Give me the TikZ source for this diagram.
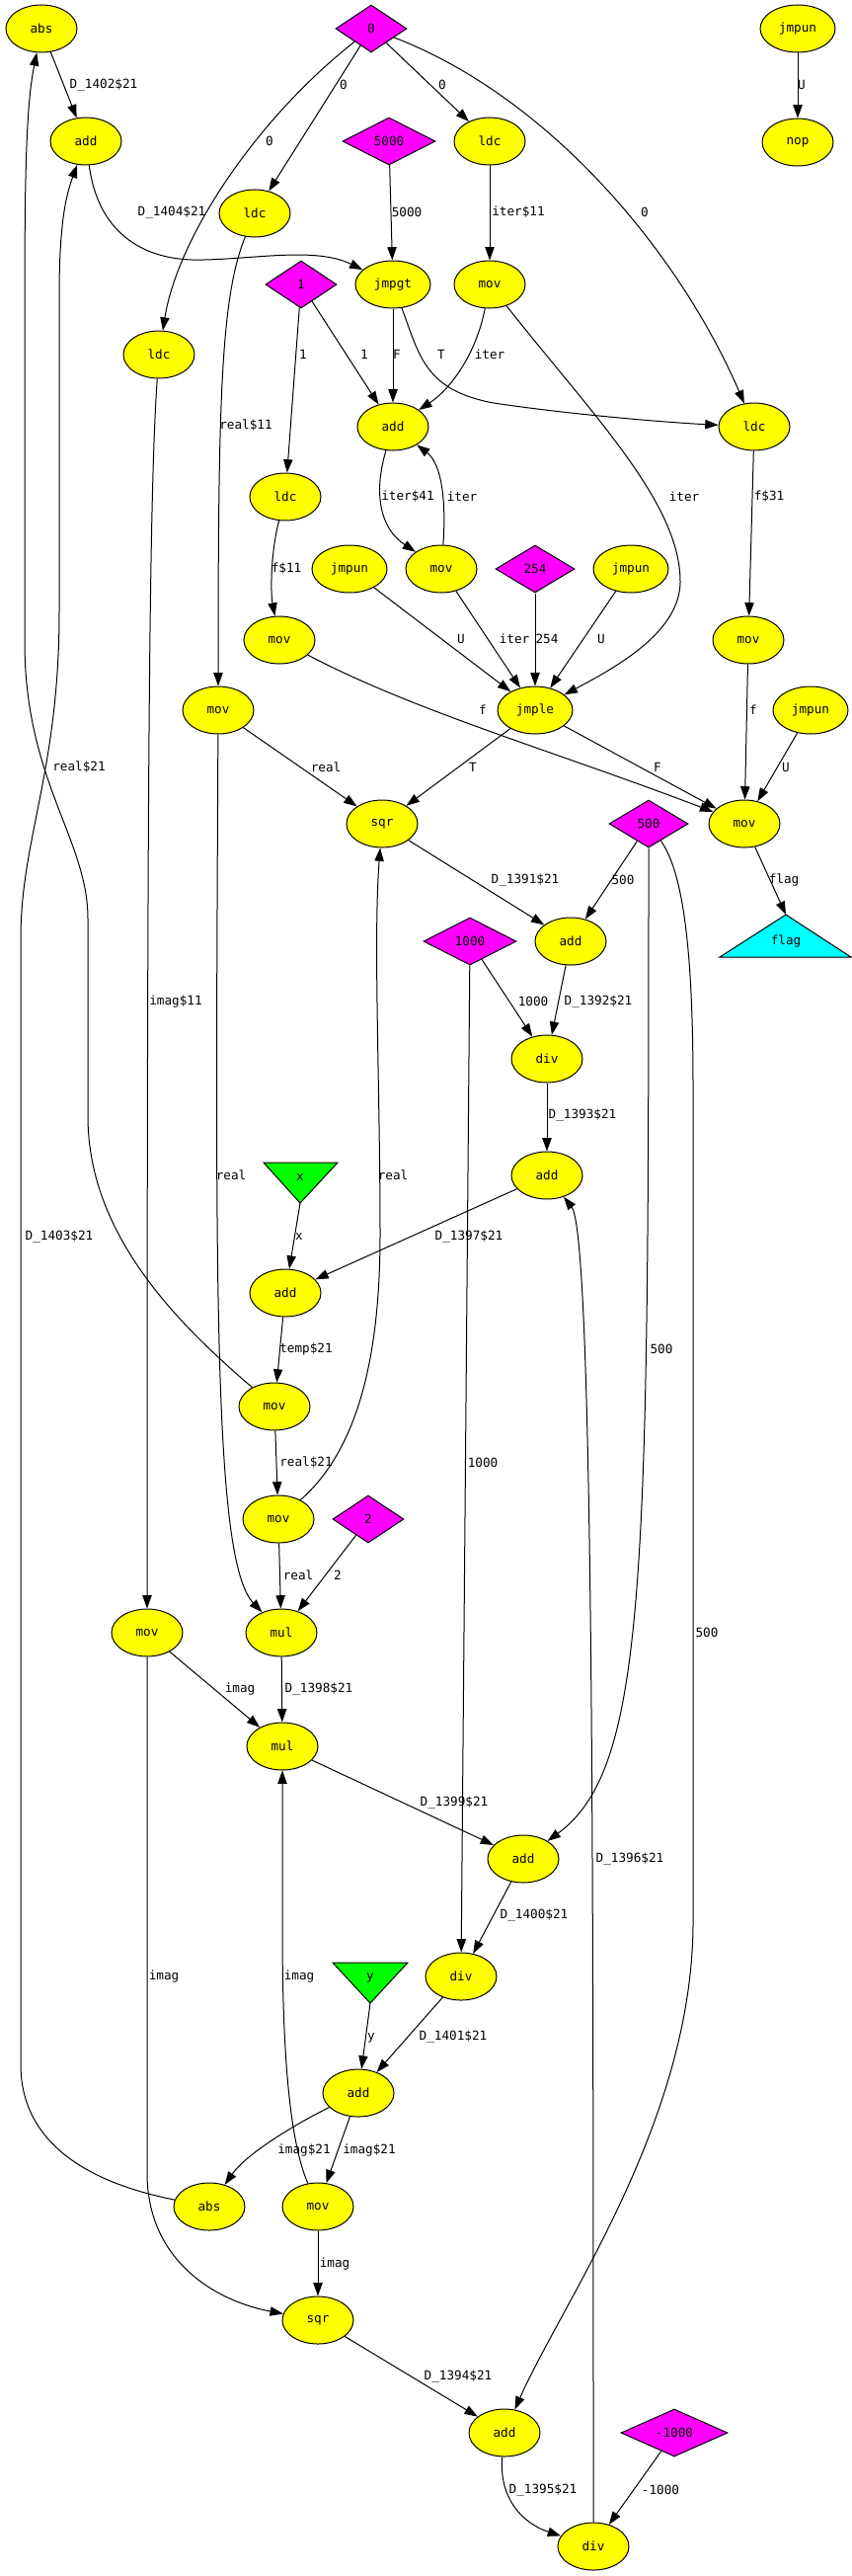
\documentclass[tikz,border=0pt]{standalone}
\usepackage{fontspec}
\setmainfont{DejaVu Sans Mono}
\usetikzlibrary{shapes.geometric,arrows.meta}
\definecolor{opyellow}{RGB}{255,255,0}
\definecolor{cstmagenta}{RGB}{255,0,255}
\definecolor{outcyan}{RGB}{0,255,255}
\definecolor{ingreen}{RGB}{0,255,0}

\begin{document}
\begin{tikzpicture}[x=0.75pt,y=-0.75pt,line width=0.75pt,
  every node/.style={font=\fontsize{9.5}{11}\selectfont},
  op/.style={ellipse,draw,fill=opyellow,minimum width=54pt,minimum height=36pt,inner sep=0pt},
  wideop/.style={op,minimum width=57pt},
  cst/.style={diamond,draw,fill=cstmagenta,aspect=2,minimum height=36pt,inner sep=0pt},
  edge/.style={-{Triangle[length=10pt,width=7pt]}}]
  \path[fill=white,use as bounding box] (0,0) rectangle (863,2608);

  % operations and constants
  \node[op] (abs1) at (42,29) {abs};
  \node[cst,minimum width=54pt] (c0) at (376,29) {0};
  \node[wideop] (jmpun1) at (808,29) {jmpun};
  \node[op] (add1) at (87,143) {add};
  \node[cst,minimum width=70.5pt] (c5000) at (394,143) {5000};
  \node[op] (ldc1) at (496,143) {ldc};
  \node[op] (nop) at (808,144) {nop};
  \node[op] (ldc2) at (258,216) {ldc};
  \node[cst,minimum width=54pt] (c1) at (305,288) {1};
  \node[wideop] (jmpgt) at (398,288) {jmpgt};
  \node[op] (mov1) at (496,288) {mov};
  \node[op] (ldc3) at (161,359) {ldc};
  \node[op] (add2) at (398,432) {add};
  \node[op] (ldc4) at (764,432) {ldc};
  \node[op] (ldc5) at (289,503) {ldc};
  \node[wideop] (jmpun2) at (354,576) {jmpun};
  \node[op] (mov2) at (447,576) {mov};
  \node[cst,minimum width=60pt] (c254) at (542,576) {254};
  \node[wideop] (jmpun3) at (639,576) {jmpun};
  \node[op] (mov3) at (283,648) {mov};
  \node[op] (mov4) at (758,648) {mov};
  \node[op] (mov5) at (221,719) {mov};
  \node[wideop] (jmple) at (542,719) {jmple};
  \node[wideop] (jmpun4) at (821,719) {jmpun};
  \node[op] (sqr1) at (387,834) {sqr};
  \node[cst,minimum width=60pt] (c500) at (657,834) {500};
  \node[op] (mov6) at (754,834) {mov};
  \node[cst,minimum width=70.5pt] (c1000) at (476,953) {1000};
  \node[op] (add3) at (578,953) {add};
  \node[op] (div1) at (554,1072) {div};
  \node[op] (add4) at (554,1190) {add};
  \node[op] (add5) at (289,1309) {add};
  \node[op] (mov7) at (278,1424) {mov};
  \node[op] (mov8) at (282,1538) {mov};
  \node[cst,minimum width=54pt] (c2) at (373,1538) {2};
  \node[op] (mov9) at (149,1653) {mov};
  \node[op] (mul1) at (285,1653) {mul};
  \node[op] (mul2) at (286,1768) {mul};
  \node[op] (add6) at (530,1882) {add};
  \node[op] (div2) at (467,2001) {div};
  \node[op] (add7) at (363,2119) {add};
  \node[op] (abs2) at (212,2234) {abs};
  \node[op] (mov10) at (322,2234) {mov};
  \node[op] (sqr2) at (322,2349) {sqr};
  \node[op] (add8) at (511,2463) {add};
  \node[cst,minimum width=81pt] (cm1000) at (683,2463) {-1000};
  \node[op] (div3) at (601,2578) {div};

  % inputs and output
  \coordinate (flagtip) at (796,926);
  \filldraw[fill=outcyan] (729,969) -- (flagtip) -- (862,969) -- cycle;
  \node (flag) at (796,953) {flag};
  \coordinate (xtip) at (304,1218);
  \filldraw[fill=ingreen] (267,1177) -- (342,1177) -- (xtip) -- cycle;
  \node (xin) at (304,1192) {x};
  \coordinate (ytip) at (375,2028);
  \filldraw[fill=ingreen] (337,1987) -- (413,1987) -- (ytip) -- cycle;
  \node (yin) at (375,2002) {y};

  % data flow
  \draw[edge] (c0) -- (ldc1) node (e1) at (448,86) {0};
  \draw[edge] (c0) -- (ldc2) node (e2) at (348,86) {0};
  \draw[edge] (c0) .. controls (260,120) and (180,240) .. (ldc3) node (e3) at (273,143) {0};
  \draw[edge] (c0) .. controls (560,100) and (690,260) .. (ldc4) node (e4) at (653,215) {0};
  \draw[edge] (jmpun1) -- (nop) node (e5) at (812,86) {U};
  \draw[edge] (abs1) -- (add1) node (e6) at (105,86) {D\_1402\$21};
  \draw[edge] (add1) .. controls (100,240) and (150,265) .. (206,263) .. controls (260,262) and (320,250) .. (jmpgt) node (e7) at (174,215) {D\_1404\$21};
  \draw[edge] (c5000) -- (jmpgt) node (e8) at (412,215) {5000};
  \draw[edge] (ldc1) -- (mov1) node (e9) at (525,215) {iter\$11};
  \draw[edge] (ldc2) .. controls (224,300) and (221,400) .. (mov5) node (e10) at (249,431) {real\$11};
  \draw[edge] (c1) -- (ldc5) node (e11) at (307,359) {1};
  \draw[edge] (c1) -- (add2) node (e12) at (369,359) {1};
  \draw[edge] (jmpgt) -- (add2) node (e13) at (402,359) {F};
  \draw[edge] (jmpgt) .. controls (425,360) and (430,395) .. (500,408) .. controls (580,420) and (680,428) .. (ldc4) node (e14) at (447,359) {T};
  \draw[edge] (mov1) .. controls (482,360) and (455,395) .. (add2) node (e15) at (496,359) {iter};
  \draw[edge] (mov1) .. controls (600,420) and (690,510) .. (689,590) .. controls (688,640) and (625,675) .. (jmple) node (e16) at (693,503) {iter};
  \draw[edge] (ldc3) .. controls (151,500) and (149,800) .. (mov9) node (e17) at (178,1014) {imag\$11};
  \draw[edge] (add2) .. controls (378,500) and (385,535) .. (mov2) node (e18) at (413,503) {iter\$41};
  \draw[edge] (mov2) .. controls (452,510) and (448,470) .. (add2) node (e19) at (468,503) {iter};
  \draw[edge] (ldc5) .. controls (274,560) and (274,600) .. (mov3) node (e20) at (290,576) {f\$11};
  \draw[edge] (ldc4) -- (mov4) node (e21) at (779,503) {f\$31};
  \draw[edge] (jmpun2) -- (jmple) node (e22) at (467,647) {U};
  \draw[edge] (mov2) -- (jmple) node (e23) at (521,647) {iter};
  \draw[edge] (c254) -- (jmple) node (e24) at (554,647) {254};
  \draw[edge] (jmpun3) -- (jmple) node (e25) at (609,647) {U};
  \draw[edge] (mov3) .. controls (420,720) and (560,760) .. (mov6) node (e26) at (489,719) {f};
  \draw[edge] (mov4) -- (mov6) node (e27) at (763,719) {f};
  \draw[edge] (jmpun4) -- (mov6) node (e28) at (796,777) {U};
  \draw[edge] (mov5) -- (sqr1) node (e29) at (330,777) {real};
  \draw[edge] (jmple) -- (sqr1) node (e30) at (479,777) {T};
  \draw[edge] (jmple) -- (mov6) node (e31) at (666,777) {F};
  \draw[edge] (mov6) -- (flagtip) node (e32) at (794,891) {flag};
  \draw[edge] (sqr1) -- (add3) node (e33) at (532,891) {D\_1391\$21};
  \draw[edge] (c500) -- (add3) node (e34) at (631,891) {500};
  \draw[edge] (c500) .. controls (657,1600) and (655,1790) .. (add6) node (e35) at (670,1366) {500};
  \draw[edge] (c500) .. controls (690,880) and (702,950) .. (702,1100) -- (702,1950) .. controls (700,2150) and (570,2330) .. (add8) node (e36) at (716,1653) {500};
  \draw[edge] (c1000) -- (div1) node (e37) at (540,1014) {1000};
  \draw[edge] (add3) -- (div1) node (e38) at (606,1014) {D\_1392\$21};
  \draw[edge] (c1000) -- (div2) node (e39) at (489,1481) {1000};
  \draw[edge] (div1) -- (add4) node (e40) at (590,1129) {D\_1393\$21};
  \draw[edge] (add4) -- (add5) node (e41) at (475,1252) {D\_1397\$21};
  \draw[edge] (xtip) -- (add5) node (e42) at (303,1252) {x};
  \draw[edge] (div3) .. controls (601,1900) and (601,1250) .. (add4) node (e43) at (638,1882) {D\_1396\$21};
  \draw[edge] (add5) -- (mov7) node (e44) at (310,1366) {temp\$21};
  \draw[edge] (mov7) .. controls (180,1340) and (89,1250) .. (89,1130) -- (89,930) .. controls (89,850) and (25,790) .. (25,650) -- (25,300) .. controls (25,150) and (28,100) .. (abs1) node (e45) at (80,777) {real\$21};
  \draw[edge] (abs2) .. controls (90,2210) and (21,2170) .. (21,2090) -- (21,950) .. controls (21,850) and (60,780) .. (60,620) -- (60,300) .. controls (60,230) and (66,200) .. (add1) node (e46) at (60,1252) {D\_1403\$21};
  \draw[edge] (mov7) -- (mov8) node (e47) at (310,1481) {real\$21};
  \draw[edge] (mov8) .. controls (360,1470) and (385,1380) .. (385,1250) .. controls (385,1100) and (378,950) .. (sqr1) node (e48) at (398,1190) {real};
  \draw[edge] (mov5) .. controls (218,1300) and (216,1580) .. (mul1) node (e49) at (234,1190) {real};
  \draw[edge] (mov8) -- (mul1) node (e50) at (302,1595) {real};
  \draw[edge] (c2) -- (mul1) node (e51) at (342,1595) {2};
  \draw[edge] (mul1) -- (mul2) node (e52) at (323,1710) {D\_1398\$21};
  \draw[edge] (mov9) -- (mul2) node (e53) at (243,1710) {imag};
  \draw[edge] (mul2) -- (add6) node (e54) at (460,1825) {D\_1399\$21};
  \draw[edge] (mov10) .. controls (290,2160) and (286,2050) .. (286,1950) -- (mul2) node (e55) at (303,2001) {imag};
  \draw[edge] (mov9) -- (149,2200) .. controls (149,2290) and (220,2330) .. (sqr2) node (e56) at (166,2001) {imag};
  \draw[edge] (add6) -- (div2) node (e57) at (541,1939) {D\_1400\$21};
  \draw[edge] (div2) -- (add7) node (e58) at (459,2062) {D\_1401\$21};
  \draw[edge] (ytip) -- (add7) node (e59) at (376,2063) {y};
  \draw[edge] (add7) .. controls (300,2150) and (250,2180) .. (abs2) node (e60) at (308,2177) {imag\$21};
  \draw[edge] (add7) -- (mov10) node (e61) at (374,2177) {imag\$21};
  \draw[edge] (mov10) -- (sqr2) node (e62) at (339,2292) {imag};
  \draw[edge] (sqr2) -- (add8) node (e63) at (464,2406) {D\_1394\$21};
  \draw[edge] (add8) .. controls (505,2530) and (530,2555) .. (div3) node (e64) at (550,2521) {D\_1395\$21};
  \draw[edge] (cm1000) -- (div3) node (e65) at (669,2521) {-1000};
\end{tikzpicture}
\end{document}
